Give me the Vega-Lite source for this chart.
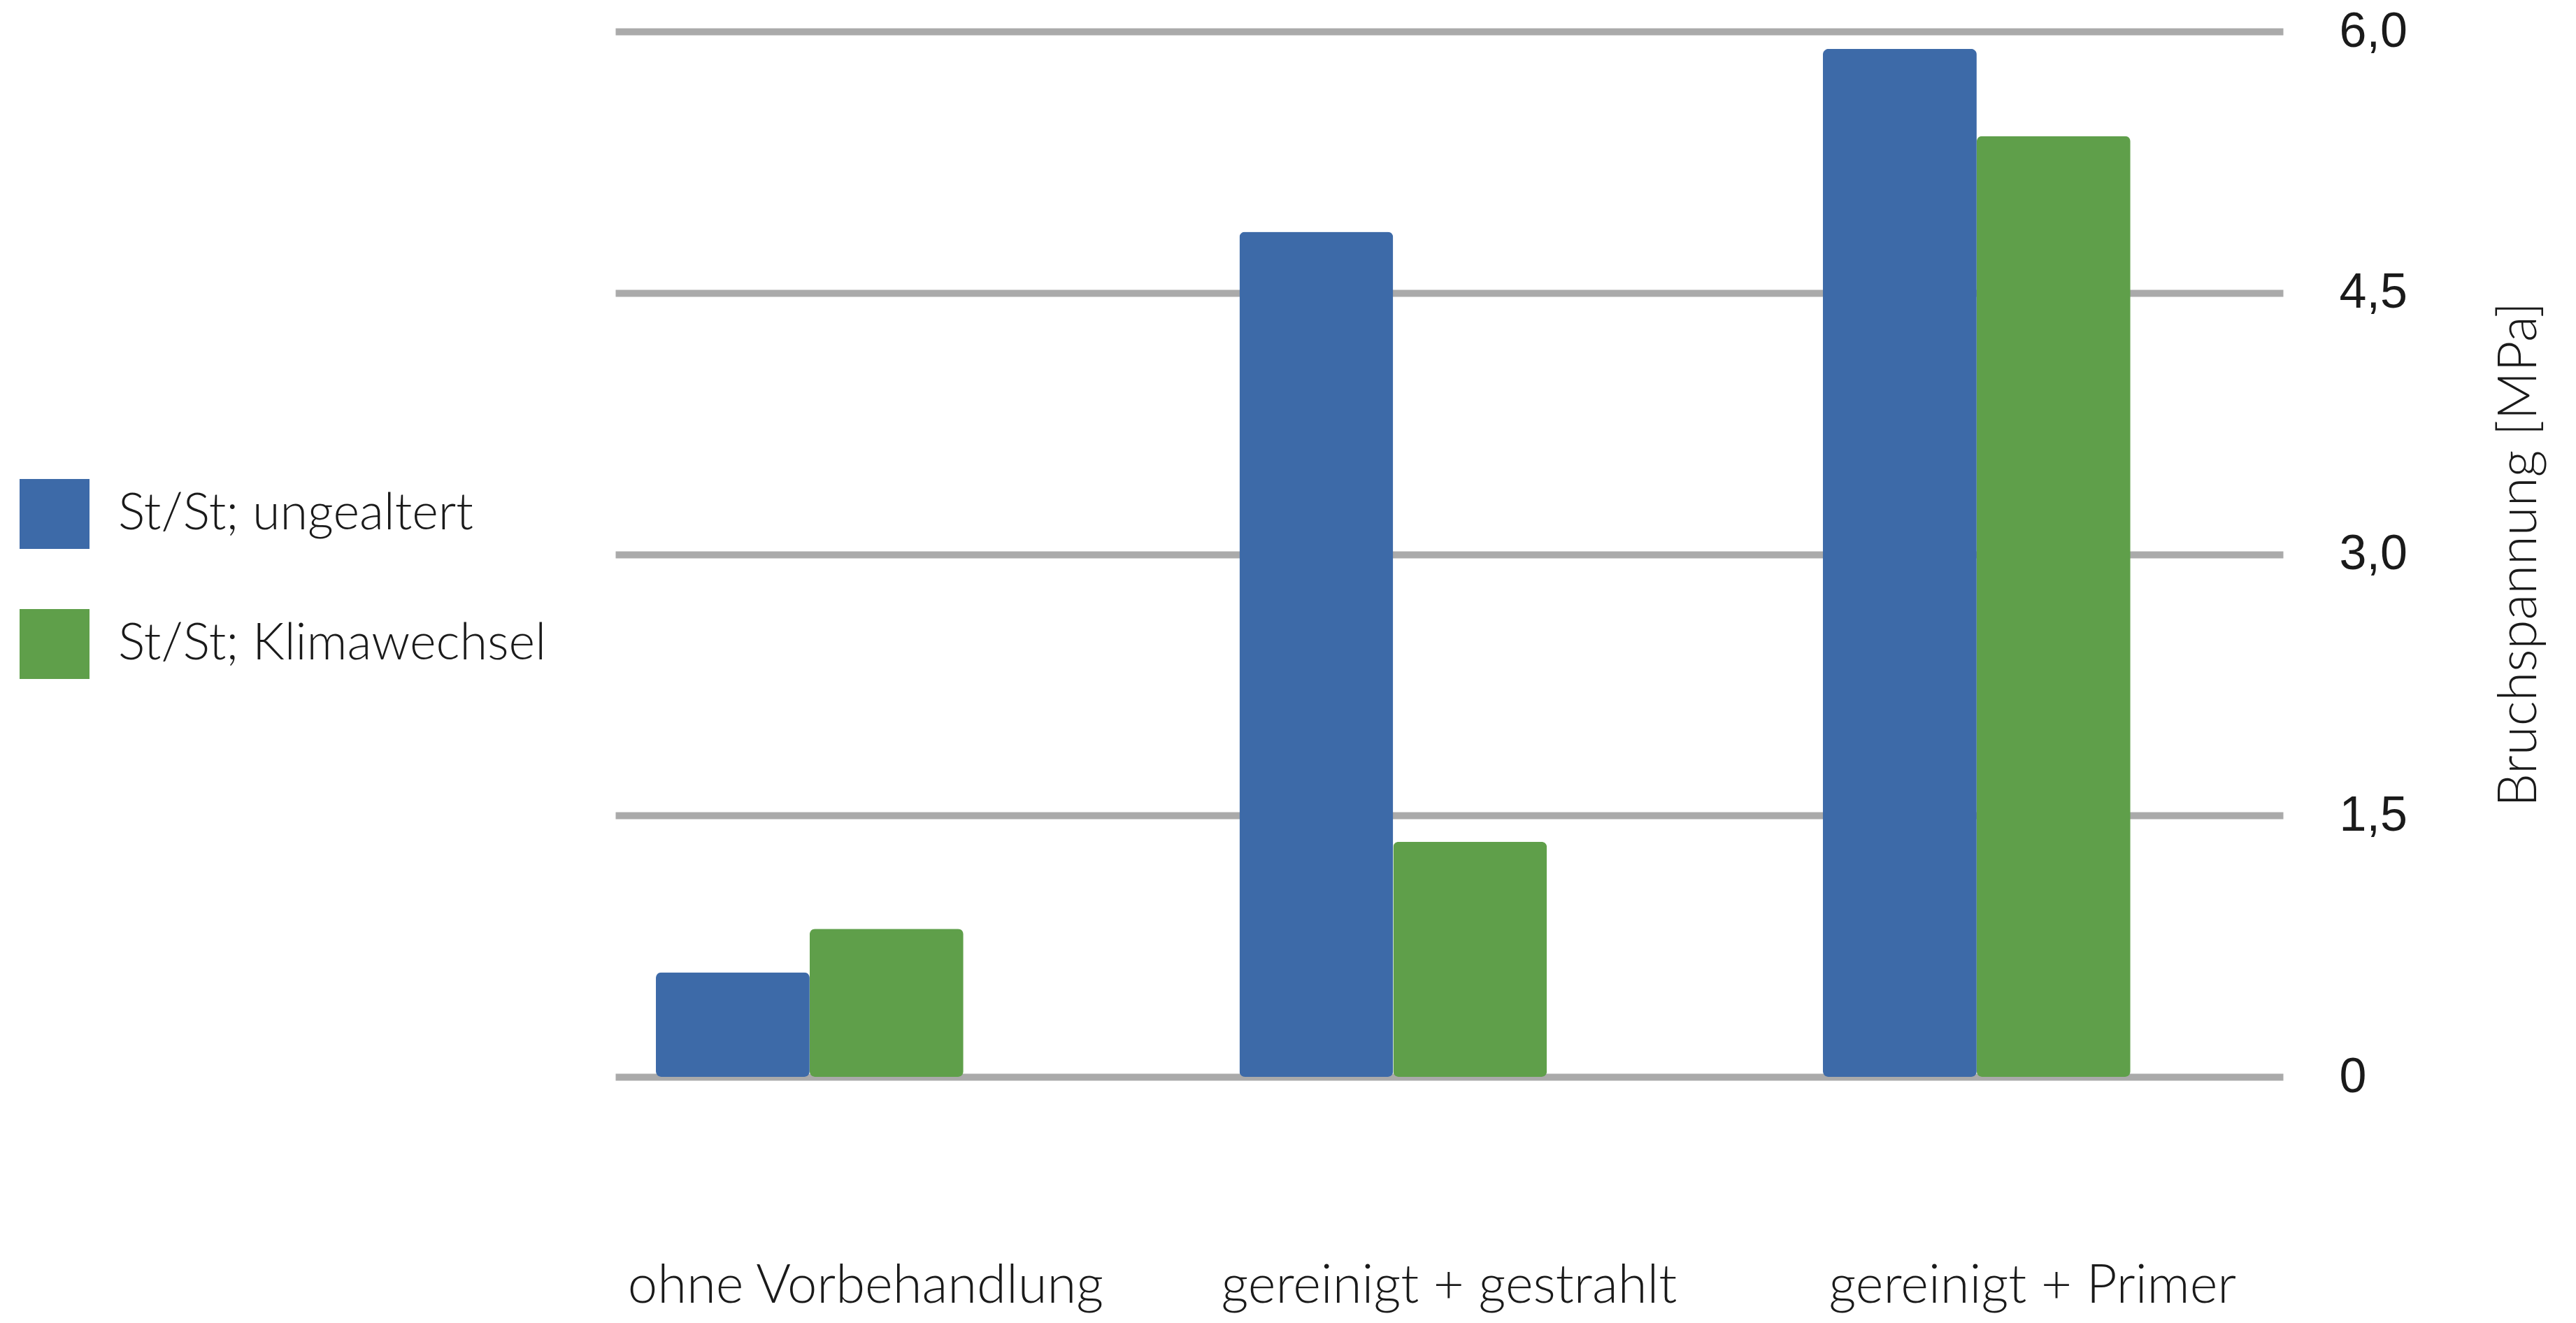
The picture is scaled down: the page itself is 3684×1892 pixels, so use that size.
{
  "$schema": "https://vega.github.io/schema/vega-lite/v6.json",
  "autosize": {"type": "none"},
  "padding": {"left": 880, "top": 45, "right": 419, "bottom": 352},
  "width": 2385,
  "height": 1495,
  "background": "white",
  "data": {
    "values": [
      {"Vorbehandlung": "ohne Vorbehandlung", "Serie": "St/St; ungealtert", "Bruchspannung": 0.6},
      {"Vorbehandlung": "ohne Vorbehandlung", "Serie": "St/St; Klimawechsel", "Bruchspannung": 0.85},
      {"Vorbehandlung": "gereinigt + gestrahlt", "Serie": "St/St; ungealtert", "Bruchspannung": 4.85},
      {"Vorbehandlung": "gereinigt + gestrahlt", "Serie": "St/St; Klimawechsel", "Bruchspannung": 1.35},
      {"Vorbehandlung": "gereinigt + Primer", "Serie": "St/St; ungealtert", "Bruchspannung": 5.9},
      {"Vorbehandlung": "gereinigt + Primer", "Serie": "St/St; Klimawechsel", "Bruchspannung": 5.4}
    ]
  },
  "mark": {"type": "bar", "cornerRadius": 8},
  "encoding": {
    "x": {
      "field": "Vorbehandlung",
      "type": "nominal",
      "sort": ["ohne Vorbehandlung", "gereinigt + gestrahlt", "gereinigt + Primer"],
      "scale": {"paddingInner": 0.473, "paddingOuter": 0.1655, "align": 0.21},
      "axis": {
        "title": null,
        "domain": false,
        "ticks": false,
        "labelAngle": 0,
        "labelPadding": 262,
        "labelOffset": 80,
        "labelLimit": 2000,
        "labelFont": "Lato",
        "labelFontWeight": 300,
        "labelFontSize": 76,
        "labelColor": "#1a1a1a"
      }
    },
    "xOffset": {
      "field": "Serie",
      "type": "nominal",
      "sort": ["St/St; ungealtert", "St/St; Klimawechsel"]
    },
    "y": {
      "field": "Bruchspannung",
      "type": "quantitative",
      "scale": {"domain": [0, 6], "nice": false},
      "axis": {
        "orient": "right",
        "title": "Bruchspannung [MPa]",
        "titleAngle": 270,
        "titleFont": "Lato",
        "titleFontWeight": 300,
        "titleFontSize": 76,
        "titleColor": "#1a1a1a",
        "titlePadding": 200,
        "values": [0, 1.5, 3, 4.5, 6],
        "labelExpr": "datum.value == 0 ? '0' : replace(format(datum.value, '.1f'), '.', ',')",
        "labelFont": "Liberation Sans",
        "labelFontSize": 70,
        "labelColor": "#1a1a1a",
        "labelPadding": 80,
        "labelAlign": "left",
        "domain": false,
        "ticks": false,
        "grid": true,
        "gridColor": "#aaaaaa",
        "gridWidth": 10
      }
    },
    "color": {
      "field": "Serie",
      "type": "nominal",
      "sort": ["St/St; ungealtert", "St/St; Klimawechsel"],
      "scale": {"range": ["#3d6aa8", "#5f9f4a"]},
      "legend": {
        "title": null,
        "orient": "none",
        "legendX": -852,
        "legendY": 640,
        "symbolType": "square",
        "symbolSize": 10000,
        "symbolStrokeWidth": 0,
        "symbolOpacity": 1,
        "rowPadding": 86,
        "labelOffset": 41,
        "labelFont": "Lato",
        "labelFontWeight": 300,
        "labelFontSize": 72,
        "labelColor": "#1a1a1a",
        "labelLimit": 1000,
        "padding": 0
      }
    }
  },
  "config": {"view": {"stroke": null}}
}
